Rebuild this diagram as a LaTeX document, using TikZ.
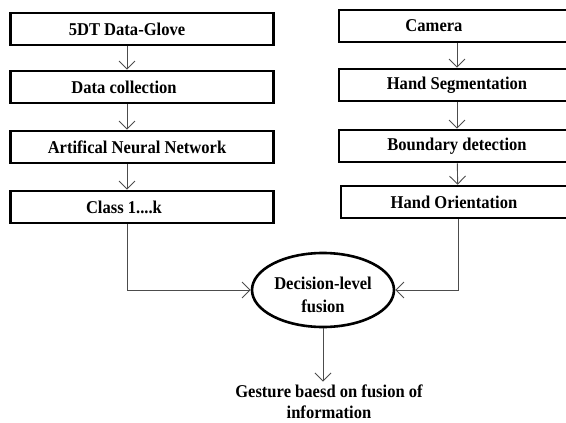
\documentclass[tikz,border=0pt]{standalone}
\usepackage{fontspec}
\setmainfont{Liberation Serif}[FakeStretch=0.92]
\usetikzlibrary{arrows.meta,shapes.geometric}

\begin{document}
\begin{tikzpicture}[x=1pt,y=-1pt,
  stage/.style={draw,line width=2.6pt,minimum height=32pt,inner sep=0pt,
    font=\fontsize{18}{21}\selectfont\bfseries},
  lean/.style={execute at end node={\hspace*{#1}}},
  link/.style={draw=black!70,line width=0.9pt,-{Straight Barb[length=8pt,width=16pt]}}]
\useasboundingbox (0,0) rectangle (566,423);
\clip (0,0) rectangle (566,423);

% glove branch
\node[stage,lean=30pt,minimum width=263pt] (glove) at (142,29) {5DT Data-Glove};
\node[stage,lean=36pt,minimum width=263pt] (collect) at (142,87) {Data collection};
\node[stage,lean=10pt,minimum width=263pt] (ann) at (142,147) {Artifical Neural Network};
\node[stage,lean=36pt,minimum width=263pt] (class) at (142,207) {Class 1....k};

% camera branch
\node[stage,lean=46pt,minimum width=236pt] (camera) at (457,26) {Camera};
\node[stage,minimum width=236pt] (segment) at (457,85) {Hand Segmentation};
\node[stage,minimum width=236pt] (boundary) at (457,146) {Boundary detection};
\node[stage,lean=8pt,minimum width=234pt] (orient) at (458,202) {Hand Orientation};

\node[stage,ellipse,minimum width=142pt,minimum height=74pt,align=center,
  text height=44pt,text depth=0pt,
  font=\fontsize{18}{23}\selectfont\bfseries] (fusion) at (323,290) {Decision-level\\fusion};
\node[align=center,font=\fontsize{18}{21}\selectfont\bfseries] (result) at (329,402)
  {Gesture baesd on fusion of\\information};

\coordinate (lx) at (127,0);

\draw[link] (glove.south -| lx) -- (collect.north -| lx);
\draw[link] (collect.south -| lx) -- (ann.north -| lx);
\draw[link] (ann.south -| lx) -- (class.north -| lx);
\draw[link] (class.south -| lx) |- (fusion.west);

\draw[link] (camera) -- (segment);
\draw[link] (segment) -- (boundary);
\draw[link] (boundary) -- (orient);
\draw[link] (orient.south) |- (fusion.east);

\draw[link] (fusion.south) -- (result.north -| fusion.south);

\end{tikzpicture}
\end{document}
